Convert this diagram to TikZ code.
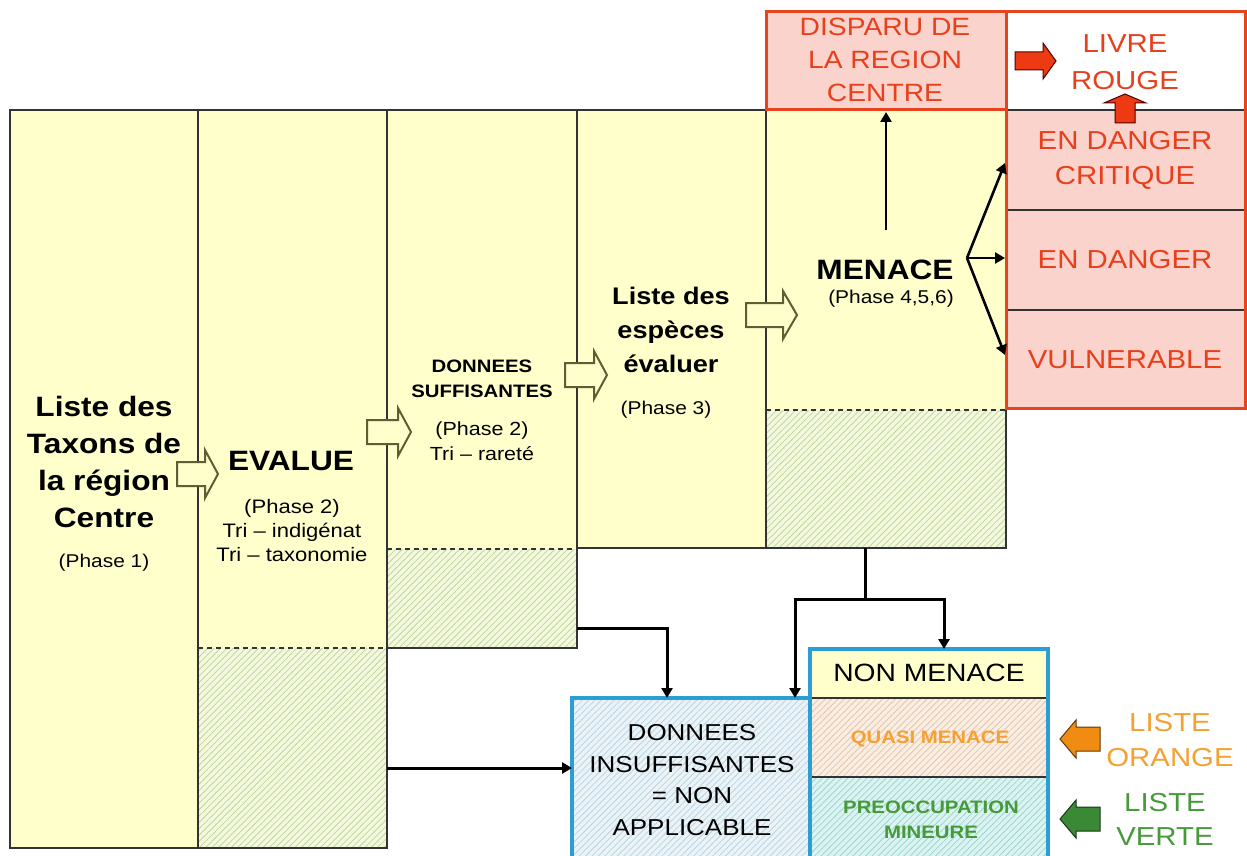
\documentclass[tikz,border=0pt]{standalone}
\usepackage{fontspec}
\setmainfont{Liberation Sans}[FakeStretch=1.13]
\usetikzlibrary{arrows.meta,patterns.meta}
\definecolor{yel}{HTML}{FFFFCC}
\definecolor{hbgG}{HTML}{F4F8DE}
\definecolor{hlG}{HTML}{BFD79C}
\definecolor{pinkf}{HTML}{F9D3CC}
\definecolor{redl}{HTML}{E5441F}
\definecolor{redt}{HTML}{E8401C}
\definecolor{redf}{HTML}{EE3A12}
\definecolor{blueb}{HTML}{2B9ED4}
\definecolor{hbgB}{HTML}{EAF3F8}
\definecolor{hlB}{HTML}{BCD4E0}
\definecolor{hbgO}{HTML}{FAEDE2}
\definecolor{hlO}{HTML}{E4C6AE}
\definecolor{hbgC}{HTML}{D9F4F2}
\definecolor{hlC}{HTML}{A4D3CB}
\definecolor{oranget}{HTML}{F5A033}
\definecolor{greent}{HTML}{479A3A}
\definecolor{orangef}{HTML}{F08C12}
\definecolor{greenf}{HTML}{3A8A35}
\definecolor{arrowol}{HTML}{5E5E35}
\definecolor{grayl}{HTML}{333333}
\newcommand{\fsz}[2]{\fontsize{#1}{#2}\selectfont}
% horizontal block arrow: tail x, head-base x, tip x, y, shaft half, head half, style
\newcommand{\blkarrowH}[7]{\draw[#7] (#1,#4-#5) -- (#2,#4-#5) -- (#2,#4-#6) -- (#3,#4) -- (#2,#4+#6) -- (#2,#4+#5) -- (#1,#4+#5) -- cycle;}
% vertical block arrow: x, tail y, head-base y, tip y, shaft half, head half, style
\newcommand{\blkarrowV}[7]{\draw[#7] (#1-#5,#2) -- (#1-#5,#3) -- (#1-#6,#3) -- (#1,#4) -- (#1+#6,#3) -- (#1+#5,#3) -- (#1+#5,#2) -- cycle;}
\begin{document}
\begin{tikzpicture}[x=1pt,y=-1pt,
  txt/.style={inner sep=0pt, align=center},
  colb/.style={draw=grayl, line width=1.6pt},
  hatchG/.style={fill=hbgG, postaction={pattern={Lines[angle=45,distance=4.5pt,line width=0.8pt]}, pattern color=hlG}},
  hatchB/.style={fill=hbgB, postaction={pattern={Lines[angle=45,distance=4.5pt,line width=0.8pt]}, pattern color=hlB}},
  hatchO/.style={fill=hbgO, postaction={pattern={Lines[angle=45,distance=4.5pt,line width=0.8pt]}, pattern color=hlO}},
  hatchC/.style={fill=hbgC, postaction={pattern={Lines[angle=45,distance=4.5pt,line width=0.8pt]}, pattern color=hlC}},
  conn/.style={draw=black, line width=3pt, -{Triangle[length=10pt,width=11pt]}},
  hollow/.style={fill=yel, draw=arrowol, line width=2pt},
  redarr/.style={fill=redf, draw=black!70!red, line width=1pt},
  orarr/.style={fill=orangef, draw=black!60!orangef, line width=1pt},
  grarr/.style={fill=greenf, draw=black!60!greenf, line width=1pt}]
\useasboundingbox (0,0) rectangle (1247,856);
\clip (0,0) rectangle (1247,856);
\fill[white] (0,0) rectangle (1247,856);

% columns
\fill[yel] (10,110) rectangle (198,848);
\fill[yel] (198,110) rectangle (387,648);
\path[hatchG] (198,648) rectangle (387,848);
\fill[yel] (387,110) rectangle (577,549);
\path[hatchG] (387,549) rectangle (577,648);
\fill[yel] (577,110) rectangle (766,548);
\fill[yel] (766,110) rectangle (1006,410);
\path[hatchG] (766,410) rectangle (1006,548);
\draw[colb] (10,110) rectangle (198,848);
\draw[colb] (198,110) rectangle (387,848);
\draw[colb] (387,110) rectangle (577,648);
\draw[colb] (577,110) rectangle (766,548);
\draw[colb] (766,110) rectangle (1006,548);
\draw[colb, dash pattern=on 5pt off 4pt] (198,648) -- (387,648);
\draw[colb, dash pattern=on 5pt off 4pt] (387,549) -- (577,549);
\draw[colb, dash pattern=on 5pt off 4pt] (766,410) -- (1006,410);

% red area
\fill[pinkf] (766,12) rectangle (1006,110);
\fill[white] (1006,12) rectangle (1245,110);
\fill[pinkf] (1006,110) rectangle (1245,408);
\draw[grayl, line width=1.4pt] (1006,110) -- (1245,110);
\draw[grayl, line width=1.4pt] (1006,210) -- (1245,210);
\draw[grayl, line width=1.4pt] (1006,310) -- (1245,310);
\draw[redl, line width=3pt] (766,12) rectangle (1006,110);
\draw[redl, line width=3pt] (1006,12) rectangle (1245,408);

% bottom boxes
\path[hatchB] (572,698) rectangle (810,870);
\draw[blueb, line width=3.2pt] (572,698) rectangle (810,870);
\fill[yel] (810,649) rectangle (1048,698);
\path[hatchO] (810,698) rectangle (1048,777);
\path[hatchC] (810,777) rectangle (1048,870);
\draw[grayl, line width=1.4pt] (810,698) -- (1048,698);
\draw[grayl, line width=1.4pt] (810,777) -- (1048,777);
\draw[blueb, line width=3.2pt] (810,649) rectangle (1048,870);

% texts
\node[txt, font=\bfseries\fsz{28}{37}] (taxa) at (104,462) {Liste des\\Taxons de\\la région\\Centre};
\node[txt, font=\fsz{18.5}{22}] (ph1) at (104,563) {(Phase 1)};
\node[txt, font=\bfseries\fsz{28}{34}] (evalue) at (291,461) {EVALUE};
\node[txt, font=\fsz{19.5}{24}] (ph2a) at (292,531) {(Phase 2)\\Tri – indigénat\\Tri – taxonomie};
\node[txt, font=\bfseries\fsz{18}{25}] (dsuf) at (482,379) {DONNEES\\SUFFISANTES};
\node[txt, font=\fsz{19}{25}] (ph2b) at (482,441) {(Phase 2)\\Tri – rareté};
\node[txt, font=\bfseries\fsz{24}{34}] (lesp) at (671,330) {Liste des\\espèces\\évaluer};
\node[txt, font=\fsz{18.5}{22}] (ph3) at (666,410) {(Phase 3)};
\node[txt, font=\bfseries\fsz{28}{34}] (menace) at (885,270) {MENACE};
\node[txt, font=\fsz{18.5}{22}] (ph4) at (891,299) {(Phase 4,5,6)};
\node[txt, text=redt, font=\fsz{25}{33}] (disp) at (885,60) {DISPARU DE\\LA REGION\\CENTRE};
\node[txt, text=redt, font=\fsz{26}{37}] (livre) at (1125,62) {LIVRE\\ROUGE};
\node[txt, text=redt, font=\fsz{26}{35}] (edc) at (1125,160) {EN DANGER\\CRITIQUE};
\node[txt, text=redt, font=\fsz{26}{35}] (ed) at (1125,260) {EN DANGER};
\node[txt, text=redt, font=\fsz{26}{35}] (vul) at (1125,360) {VULNERABLE};
\node[txt, font=\fsz{23}{31.5}] (dinsuf) at (692,780) {DONNEES\\INSUFFISANTES\\= NON\\APPLICABLE};
\node[txt, font=\fsz{25}{30}] (nonm) at (929,673) {NON MENACE};
\node[txt, text=oranget, font=\bfseries\fsz{18}{22}] (quasi) at (930,739) {QUASI MENACE};
\node[txt, text=greent, font=\bfseries\fsz{18}{25}] (preoc) at (931,820) {PREOCCUPATION\\MINEURE};
\node[txt, text=oranget, font=\fsz{26}{35}] (lor) at (1170,740) {LISTE\\ORANGE};
\node[txt, text=greent, font=\fsz{26}{34}] (lve) at (1165,819) {LISTE\\VERTE};

% connector points
\coordinate (p3) at (577,628);
\coordinate (q3) at (667,698);
\coordinate (p2) at (387,768);
\coordinate (q2) at (572,768);
\coordinate (p5) at (865,548);
\coordinate (s5) at (865,599);
\coordinate (qL) at (795,698);
\coordinate (qR) at (944,649);
\coordinate (mu0) at (886,230);
\coordinate (mu1) at (886,112);
\coordinate (mf) at (967,258);
\coordinate (t1) at (1005,163);
\coordinate (t2) at (1005,258);
\coordinate (t3) at (1005,355);

\draw[conn] (p3) -| (q3);
\draw[conn] (p2) -- (q2);
\draw[line width=3pt] (p5) -- (s5);
\draw[conn] (s5) -| (qL);
\draw[conn] (s5) -| (qR);
\draw[conn, line width=2.6pt] (mu0) -- (mu1);
\draw[conn, line width=2.6pt] (mf) -- (t1);
\draw[conn, line width=2.6pt] (mf) -- (t2);
\draw[conn, line width=2.6pt] (mf) -- (t3);

% block arrows between columns
\blkarrowH{177}{205}{218}{474}{12}{24}{hollow}
\blkarrowH{367}{398}{411}{432}{12}{24}{hollow}
\blkarrowH{565}{594}{607}{375}{12}{24}{hollow}
\blkarrowH{746}{783}{797}{315}{12}{24}{hollow}
% coloured arrows
\blkarrowH{1015}{1043}{1056}{61}{9}{18}{redarr}
\blkarrowV{1125}{123}{103}{94}{10}{21}{redarr}
\blkarrowH{1100}{1076}{1060}{739}{12}{19}{orarr}
\blkarrowH{1100}{1076}{1060}{819}{12}{19}{grarr}
\end{tikzpicture}
\end{document}
